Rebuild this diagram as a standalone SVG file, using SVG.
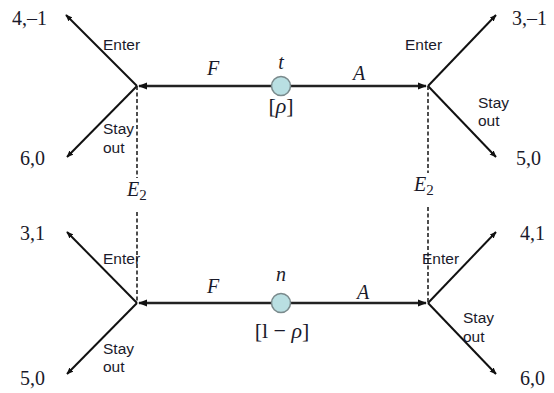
<svg xmlns="http://www.w3.org/2000/svg" width="554" height="393" viewBox="0 0 554 393">
<style>
.ln{stroke:#111;stroke-width:2;fill:none}
.hz{stroke:#222;stroke-width:2.6;fill:none}
.ds{stroke:#222;stroke-width:1.6;stroke-dasharray:4 2.5;fill:none}
.lb{font-family:"Liberation Sans",Arial,sans-serif;font-size:15.5px;fill:#1a1a2a}
.pf{font-family:"Liberation Serif","Times New Roman",serif;font-size:20px;fill:#1a1a2a}
.it{font-family:"Liberation Serif","Times New Roman",serif;font-size:20px;font-style:italic;fill:#1a1a2a}
.rm{font-family:"Liberation Serif","Times New Roman",serif;font-size:22px;fill:#1a1a2a}
.ch{fill:#b9dfe2;stroke:#7a8a8c;stroke-width:1.5}
</style>
<defs>
<marker id="ah" viewBox="0 0 10 10" refX="9" refY="5" markerWidth="3.5" markerHeight="3.5" orient="auto" markerUnits="strokeWidth">
<path d="M0,1 L10,5 L0,9 z" fill="#111"/>
</marker>
</defs>
<g id="connectors">
<line class="hz" x1="281" y1="86" x2="139" y2="86" marker-end="url(#ah)"/>
<line class="hz" x1="281" y1="86" x2="426" y2="86" marker-end="url(#ah)"/>
<line class="hz" x1="281" y1="303" x2="139" y2="303" marker-end="url(#ah)"/>
<line class="hz" x1="281" y1="303" x2="426" y2="303" marker-end="url(#ah)"/>
<line class="ln" x1="137" y1="86" x2="66" y2="15" marker-end="url(#ah)"/>
<line class="ln" x1="137" y1="86" x2="67" y2="157" marker-end="url(#ah)"/>
<line class="ln" x1="428" y1="86" x2="496" y2="15" marker-end="url(#ah)"/>
<line class="ln" x1="428" y1="86" x2="496" y2="157" marker-end="url(#ah)"/>
<line class="ln" x1="137" y1="303" x2="67" y2="232" marker-end="url(#ah)"/>
<line class="ln" x1="137" y1="303" x2="67" y2="374" marker-end="url(#ah)"/>
<line class="ln" x1="428" y1="303" x2="496" y2="232" marker-end="url(#ah)"/>
<line class="ln" x1="428" y1="303" x2="496" y2="374" marker-end="url(#ah)"/>
<line class="ds" x1="137" y1="86" x2="137" y2="178"/>
<line class="ds" x1="137" y1="212" x2="137" y2="303"/>
<line class="ds" x1="428" y1="86" x2="428" y2="173"/>
<line class="ds" x1="428" y1="207" x2="428" y2="303"/>
<text class="it" x="207" y="75">F</text>
<text class="it" x="353" y="80">A</text>
<text class="it" x="207" y="293">F</text>
<text class="it" x="357" y="299">A</text>
<text class="it" x="127" y="196">E<tspan font-size="15" font-style="normal" dy="4">2</tspan></text>
<text class="it" x="414" y="191">E<tspan font-size="15" font-style="normal" dy="4">2</tspan></text>
<text class="lb" x="103" y="50">Enter</text>
<text class="lb" x="103" y="134">Stay</text>
<text class="lb" x="103" y="153">out</text>
<text class="lb" x="405" y="50">Enter</text>
<text class="lb" x="478" y="108">Stay</text>
<text class="lb" x="478" y="126">out</text>
<text class="lb" x="103" y="264">Enter</text>
<text class="lb" x="103" y="354">Stay</text>
<text class="lb" x="103" y="372">out</text>
<text class="lb" x="422" y="264">Enter</text>
<text class="lb" x="463" y="323">Stay</text>
<text class="lb" x="463" y="342">out</text>
</g>
<g id="chance-top">
<circle class="ch" cx="281" cy="86" r="9.5"/>
<text class="it" x="281" y="69" text-anchor="middle">t</text>
<text class="rm" x="281" y="113" text-anchor="middle">[<tspan font-style="italic">ρ</tspan>]</text>
</g>
<g id="chance-bottom">
<circle class="ch" cx="281" cy="303" r="9.5"/>
<text class="it" x="281" y="281" text-anchor="middle">n</text>
<text class="rm" x="282" y="338" text-anchor="middle">[l − <tspan font-style="italic">ρ</tspan>]</text>
</g>
<g id="payoff-tl-enter"><text class="pf" x="12" y="25">4,–1</text></g>
<g id="payoff-tl-stay"><text class="pf" x="20" y="165">6,0</text></g>
<g id="payoff-tr-enter"><text class="pf" x="512" y="25">3,–1</text></g>
<g id="payoff-tr-stay"><text class="pf" x="516" y="165">5,0</text></g>
<g id="payoff-bl-enter"><text class="pf" x="20" y="240">3,1</text></g>
<g id="payoff-bl-stay"><text class="pf" x="20" y="385">5,0</text></g>
<g id="payoff-br-enter"><text class="pf" x="520" y="240">4,1</text></g>
<g id="payoff-br-stay"><text class="pf" x="520" y="385">6,0</text></g>
</svg>
